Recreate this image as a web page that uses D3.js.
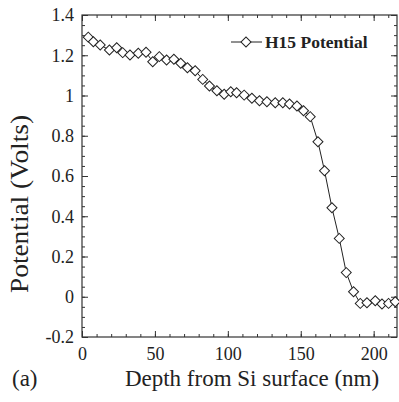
<!DOCTYPE html>
<html>
<head>
<meta charset="utf-8">
<script src="https://cdn.jsdelivr.net/npm/d3@7"></script>
<style>
  html, body { margin: 0; padding: 0; background: #fff; }
  svg { display: block; }
  text { font-family: 'Liberation Serif', 'DejaVu Serif', serif; fill: #222; }
</style>
</head>
<body>
<svg id="chart" width="399" height="402"></svg>
<script>
// depth (nm) and H15 potential (V)
const depth = [4.3, 7.8, 12.5, 18.8, 23.8, 27.9, 32.9, 38.6, 43.9, 48.5,
  53, 58, 63, 67.7, 72.3, 77.6, 82.8, 87.4, 92.5, 97.5,
  102, 106, 111.2, 116.5, 121.7, 126.8, 132.5, 137.7, 142.3, 147.4,
  151.9, 156.5, 161.8, 166.3, 171.4, 176.4, 181.2, 186.2, 190.8, 195.4,
  201.1, 205.7, 210.2, 214.8]
const potential = [1.29, 1.267, 1.251, 1.226, 1.237, 1.213, 1.201, 1.21, 1.215, 1.168,
  1.193, 1.176, 1.18, 1.16, 1.138, 1.123, 1.08, 1.047, 1.024, 1.006,
  1.019, 1.014, 1.002, 0.986, 0.974, 0.969, 0.964, 0.964, 0.958, 0.948,
  0.924, 0.895, 0.77, 0.626, 0.442, 0.29, 0.12, 0.025, -0.033, -0.03,
  -0.02, -0.036, -0.033, -0.025]

const xMajor = [0, 50, 100, 150, 200]
const xMinor = d3.range(0, 217, 10)
const yMajor = [-0.2, 0, 0.2, 0.4, 0.6, 0.8, 1, 1.2, 1.4]
const yMinor = d3.range(-0.2, 1.401, 0.05)

const seriesName = 'H15 Potential'
const xTitle = 'Depth from Si surface (nm)'
const yTitle = 'Potential (Volts)'

const svg = d3.select('#chart')
const x = d3.scaleLinear().domain([0, 216]).range([82, 397])
const y = d3.scaleLinear().domain([-0.2, 1.4]).range([337, 15])

const fmt = (d) => String(+d.toFixed(1))

const axisColor = '#333'
const styleAxis = (g) => {
  g.select('.domain').remove()
  g.selectAll('line').attr('stroke', axisColor)
  g.selectAll('text').style('font-size', '18px').attr('fill', '#222')
}

// left
svg.append('g').attr('transform', `translate(${x(0)},0)`)
  .call(d3.axisLeft(y).tickValues(yMinor).tickSize(-3).tickFormat(''))
  .call(styleAxis)
svg.append('g').attr('transform', `translate(${x(0)},0)`)
  .call(d3.axisLeft(y).tickValues(yMajor).tickSize(-6).tickPadding(8).tickFormat(fmt))
  .call(styleAxis)
// right
svg.append('g').attr('transform', `translate(${x(216)},0)`)
  .call(d3.axisRight(y).tickValues(yMinor).tickSize(-3).tickFormat(''))
  .call(styleAxis)
svg.append('g').attr('transform', `translate(${x(216)},0)`)
  .call(d3.axisRight(y).tickValues(yMajor).tickSize(-6).tickFormat(''))
  .call(styleAxis)
// bottom
svg.append('g').attr('transform', `translate(0,${y(-0.2)})`)
  .call(d3.axisBottom(x).tickValues(xMinor).tickSize(-3).tickFormat(''))
  .call(styleAxis)
svg.append('g').attr('transform', `translate(0,${y(-0.2)})`)
  .call(d3.axisBottom(x).tickValues(xMajor).tickSize(-6).tickPadding(10).tickFormat(fmt))
  .call(styleAxis)
// top
svg.append('g').attr('transform', `translate(0,${y(1.4)})`)
  .call(d3.axisTop(x).tickValues(xMinor).tickSize(-3).tickFormat(''))
  .call(styleAxis)
svg.append('g').attr('transform', `translate(0,${y(1.4)})`)
  .call(d3.axisTop(x).tickValues(xMajor).tickSize(-6).tickFormat(''))
  .call(styleAxis)

// frame
svg.append('rect')
  .attr('x', x(0)).attr('y', y(1.4))
  .attr('width', x(216) - x(0)).attr('height', y(-0.2) - y(1.4))
  .attr('fill', 'none').attr('stroke', axisColor).attr('stroke-width', 1.2)

const pts = depth.map((d, i) => [d, potential[i]])

svg.append('path')
  .datum(pts)
  .attr('fill', 'none')
  .attr('stroke', '#222')
  .attr('stroke-width', 1)
  .attr('d', d3.line().x((d) => x(d[0])).y((d) => y(d[1])))

const diamond = d3.symbol().type(d3.symbolSquare).size(50)

svg.append('g').selectAll('path')
  .data(pts)
  .join('path')
  .attr('d', diamond)
  .attr('transform', (d) => `translate(${x(d[0])},${y(d[1])}) rotate(45)`)
  .attr('fill', '#fff')
  .attr('stroke', '#222')
  .attr('stroke-width', 1)

// legend
const leg = svg.append('g')
leg.append('line').attr('x1', 231).attr('x2', 262).attr('y1', 42).attr('y2', 42)
  .attr('stroke', '#222')
leg.append('path').attr('d', diamond)
  .attr('transform', 'translate(246,42) rotate(45)')
  .attr('fill', '#fff').attr('stroke', '#222')
leg.append('text').attr('x', 265).attr('y', 48)
  .style('font-size', '17.5px').style('font-weight', 'bold')
  .text(seriesName)

// titles
svg.append('text').attr('x', 252).attr('y', 386)
  .attr('text-anchor', 'middle').style('font-size', '23px')
  .text(xTitle)
svg.append('text').attr('x', 12).attr('y', 386)
  .style('font-size', '23px')
  .text('(a)')
svg.append('text')
  .attr('transform', 'translate(28,204) rotate(-90)')
  .attr('text-anchor', 'middle').style('font-size', '25px')
  .attr('textLength', 178).attr('lengthAdjust', 'spacingAndGlyphs')
  .text(yTitle)
</script>
</body>
</html>
